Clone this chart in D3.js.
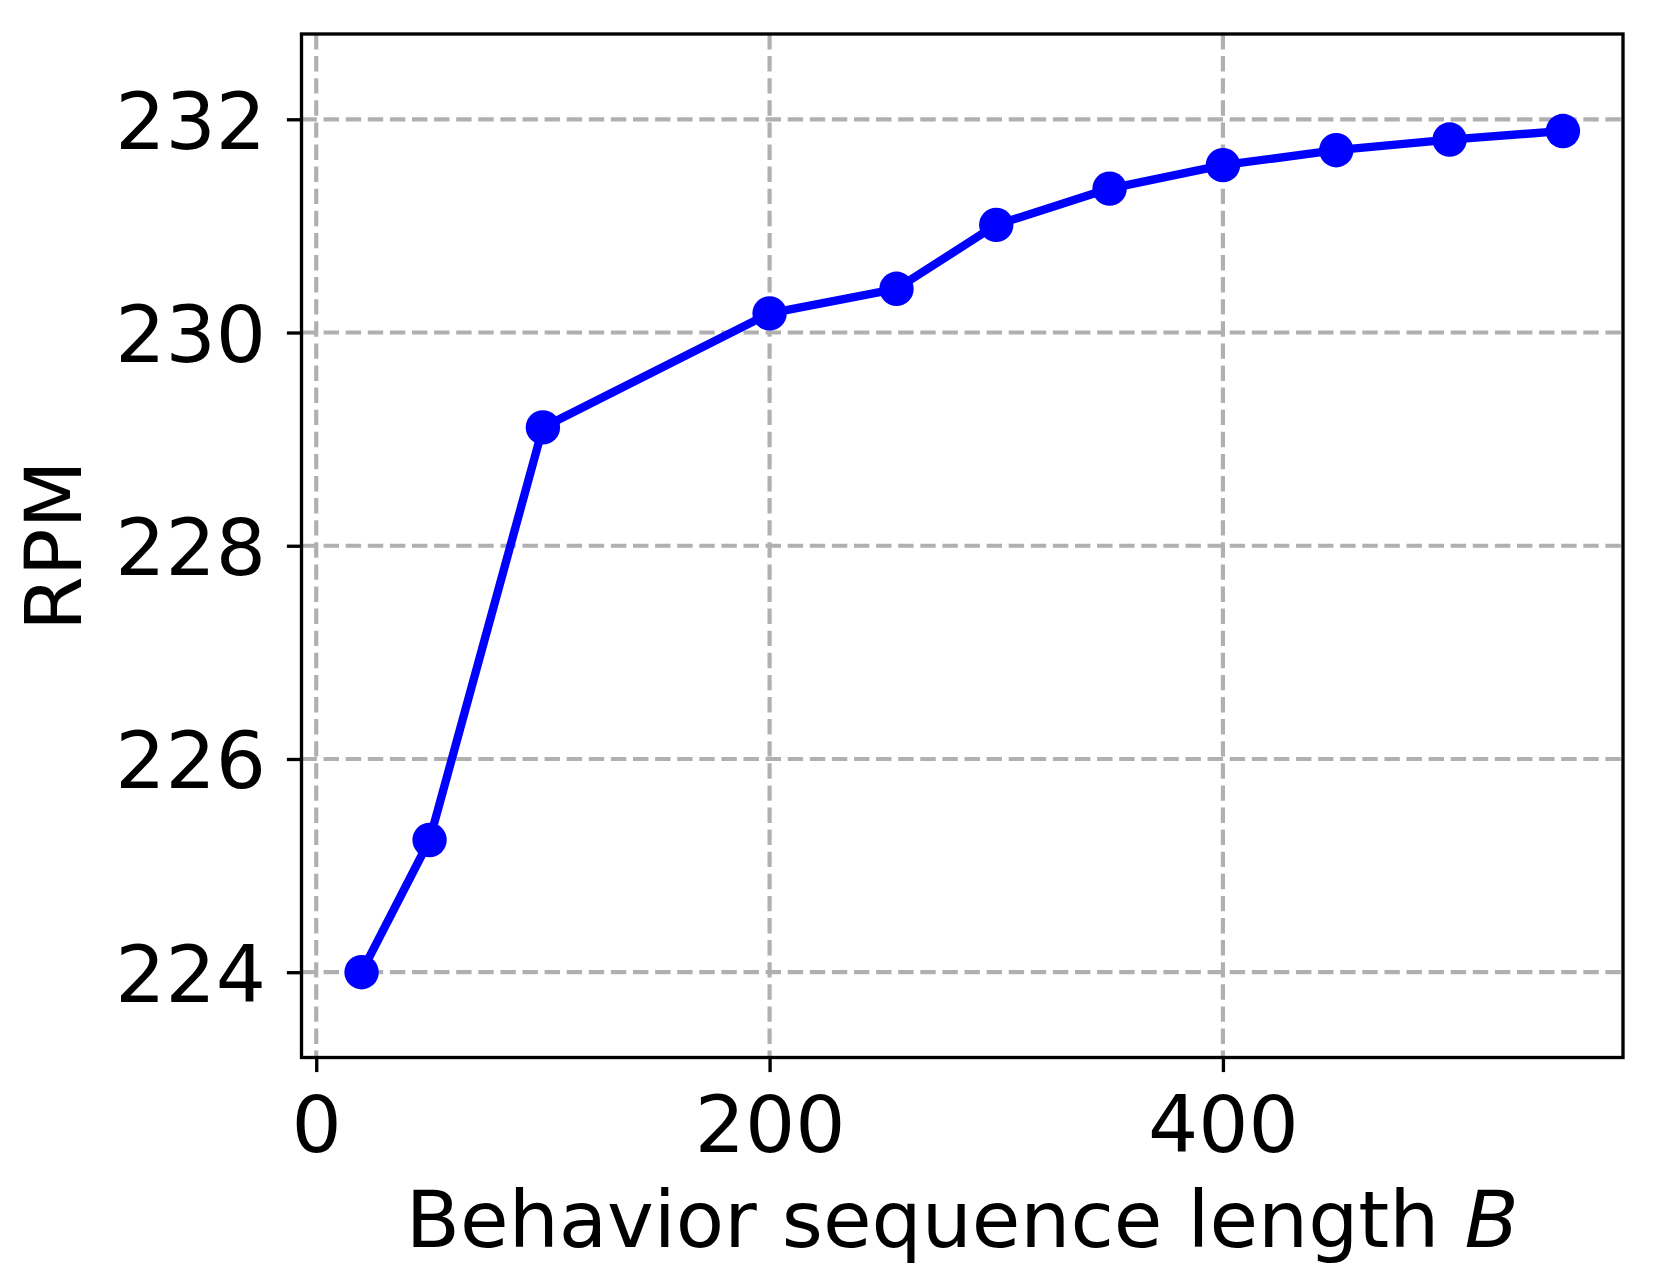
<!DOCTYPE html>
<html>
<head>
<meta charset="utf-8">
<script src="https://cdn.jsdelivr.net/npm/d3@7"></script>
<style>
  html, body { margin: 0; padding: 0; background: #ffffff; }
  svg { display: block; }
  text { font-family: "DejaVu Sans", sans-serif; fill: #000; }
</style>
</head>
<body>
<svg id="chart" width="1658" height="1278"></svg>
<script>
// Data
const seqLength = [20, 50, 100, 200, 256, 300, 350, 400, 450, 500, 550];
const rpm = [224.00, 225.24, 229.11, 230.18, 230.41, 231.01, 231.35, 231.57, 231.71, 231.81, 231.89];
const xTicks = [0, 200, 400];
const yTicks = [224, 226, 228, 230, 232];
const xDomain = [-6.5, 576.5];
const yDomain = [223.2, 232.8];
const xLabelText = "Behavior sequence length ";
const xLabelVar = "B";
const yLabelText = "RPM";

const svg = d3.select("#chart");
const plot = { left: 301.5, right: 1623, top: 34, bottom: 1057.5 };
const fontSize = 79;
const spineW = 3.33;
const tickLen = 14.6;

const x = d3.scaleLinear().domain(xDomain).range([plot.left, plot.right]);
const y = d3.scaleLinear().domain(yDomain).range([plot.bottom, plot.top]);

// white background
svg.append("rect").attr("width", 1658).attr("height", 1278).attr("fill", "#fff");

// grid
const grid = svg.append("g");
grid.selectAll("line.gx").data(xTicks).join("line")
  .attr("x1", d => x(d)).attr("x2", d => x(d))
  .attr("y1", plot.top).attr("y2", plot.bottom)
  .attr("stroke", "#b0b0b0").attr("stroke-width", 4.17)
  .attr("stroke-dasharray", "15.4,6.7");
grid.selectAll("line.gy").data(yTicks).join("line")
  .attr("y1", d => y(d)).attr("y2", d => y(d))
  .attr("x1", plot.left).attr("x2", plot.right)
  .attr("stroke", "#b0b0b0").attr("stroke-width", 4.17)
  .attr("stroke-dasharray", "15.4,6.7");

// line + markers
const pts = seqLength.map((d, i) => [d, rpm[i]]);
const line = d3.line().x(d => x(d[0])).y(d => y(d[1]));
svg.append("path").datum(pts)
  .attr("d", line)
  .attr("fill", "none").attr("stroke", "#0000ff")
  .attr("stroke-width", 8.33).attr("stroke-linejoin", "round").attr("stroke-linecap", "square");
svg.append("g").selectAll("circle").data(pts).join("circle")
  .attr("cx", d => x(d[0])).attr("cy", d => y(d[1]))
  .attr("r", 17.2).attr("fill", "#0000ff");

// axes via d3 axis generators
const xAxis = d3.axisBottom(x).tickValues(xTicks).tickSize(tickLen).tickPadding(0).tickFormat(d3.format("d"));
const gx = svg.append("g").attr("transform", `translate(0,${plot.bottom})`).call(xAxis);
gx.select(".domain").remove();
gx.selectAll(".tick line").attr("stroke", "#000").attr("stroke-width", spineW);
gx.selectAll(".tick text")
  .attr("font-size", fontSize).attr("font-family", "DejaVu Sans")
  .attr("fill", "#000").attr("dy", null).attr("y", 1152 - plot.bottom);

const yAxis = d3.axisLeft(y).tickValues(yTicks).tickSize(tickLen).tickPadding(0).tickFormat(d3.format("d"));
const gy = svg.append("g").attr("transform", `translate(${plot.left},0)`).call(yAxis);
gy.select(".domain").remove();
gy.selectAll(".tick line").attr("stroke", "#000").attr("stroke-width", spineW);
gy.selectAll(".tick text")
  .attr("font-size", fontSize).attr("font-family", "DejaVu Sans")
  .attr("fill", "#000").attr("x", 266 - plot.left).attr("dy", "0.365em")
  .attr("text-anchor", "end");

// spines
svg.append("rect")
  .attr("x", plot.left).attr("y", plot.top)
  .attr("width", plot.right - plot.left).attr("height", plot.bottom - plot.top)
  .attr("fill", "none").attr("stroke", "#000").attr("stroke-width", spineW);

// axis labels
const xl = svg.append("text")
  .attr("x", (plot.left + plot.right) / 2).attr("y", 1247)
  .attr("text-anchor", "middle").attr("font-size", fontSize);
xl.append("tspan").text(xLabelText);
xl.append("tspan").attr("font-style", "italic").text(xLabelVar);

svg.append("text")
  .attr("transform", `translate(81,${(plot.top + plot.bottom) / 2}) rotate(-90)`)
  .attr("text-anchor", "middle").attr("font-size", fontSize)
  .text(yLabelText);
</script>
</body>
</html>
